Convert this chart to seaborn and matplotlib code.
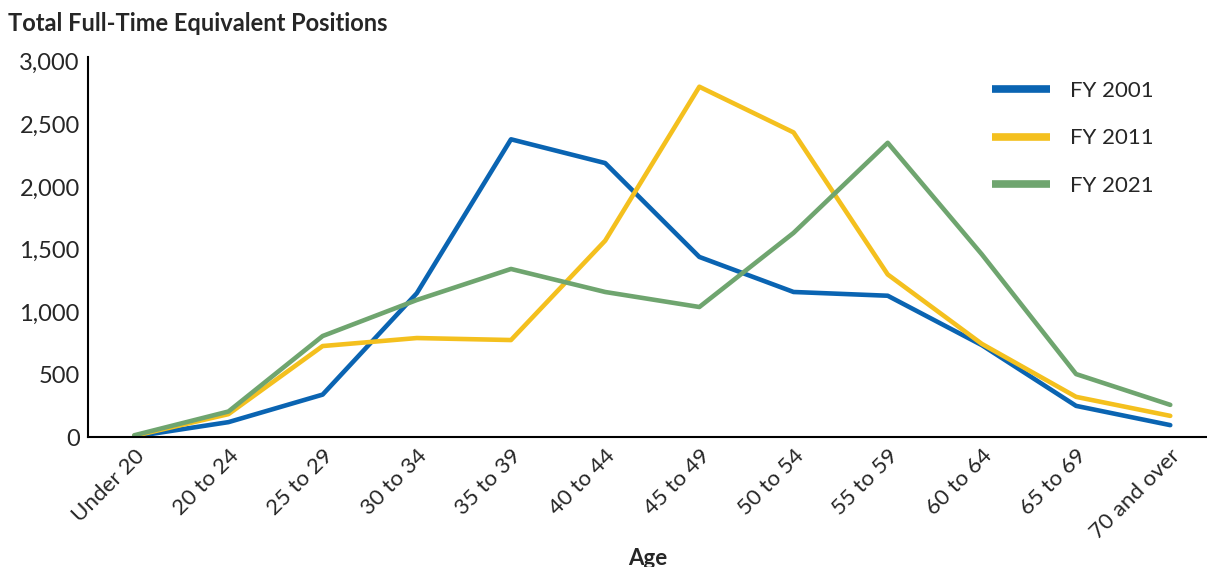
import pandas as pd
import matplotlib.pyplot as plt
import seaborn as sns

ages = ["Under 20", "20 to 24", "25 to 29", "30 to 34", "35 to 39", "40 to 44",
        "45 to 49", "50 to 54", "55 to 59", "60 to 64", "65 to 69", "70 and over"]
fy2001 = [5, 120, 340, 1150, 2380, 2190, 1440, 1160, 1130, 735, 250, 96]
fy2011 = [10, 184, 728, 792, 776, 1570, 2800, 2435, 1300, 745, 322, 170]
fy2021 = [15, 205, 808, 1096, 1344, 1160, 1040, 1632, 2352, 1460, 504, 258]

series = {"FY 2001": fy2001, "FY 2011": fy2011, "FY 2021": fy2021}
colors = {"FY 2001": "#0A64B2", "FY 2011": "#F4C01E", "FY 2021": "#6FA56F"}

rows = []
for name, vals in series.items():
    for i, v in enumerate(vals):
        rows.append({"idx": i, "Age": ages[i], "value": v, "series": name})
df = pd.DataFrame(rows)

sns.set_theme(style="white")
plt.rcParams['font.family'] = ['Lato', 'DejaVu Sans']

fig = plt.figure(figsize=(12.07, 5.67), dpi=100)
ax = fig.add_axes([0.073, 0.229, 0.927, 0.671])

sns.lineplot(data=df, x="idx", y="value", hue="series", palette=colors,
             linewidth=3.3, ax=ax, legend=True)

ax.set_xlim(-0.49, 11.39)
ax.set_ylim(0, 3040)
ax.set_yticks([0, 500, 1000, 1500, 2000, 2500, 3000])
ax.set_yticklabels(["0", "500", "1,000", "1,500", "2,000", "2,500", "3,000"], fontsize=17)
ax.set_xticks(range(len(ages)))
ax.set_xticklabels(ages, rotation=45, ha="right", rotation_mode="anchor", fontsize=16)
ax.tick_params(axis="both", length=0, pad=6)

for side in ["top", "right"]:
    ax.spines[side].set_visible(False)
for side in ["left", "bottom"]:
    ax.spines[side].set_color("black")
    ax.spines[side].set_linewidth(1.5)

ax.set_ylabel("")
ax.set_xlabel("Age", fontsize=16, fontweight="bold", labelpad=4)

leg = ax.legend(loc="upper right", bbox_to_anchor=(0.97, 0.99), frameon=False,
                fontsize=16, handlelength=2.6, handletextpad=0.9, labelspacing=1.25)
for line in leg.get_lines():
    line.set_linewidth(5.5)
    line.set_solid_capstyle("butt")

fig.text(0.007, 0.958, "Total Full-Time Equivalent Positions", fontsize=17,
         fontweight="bold", ha="left", va="center")

fig.savefig("out.png", dpi=100)
